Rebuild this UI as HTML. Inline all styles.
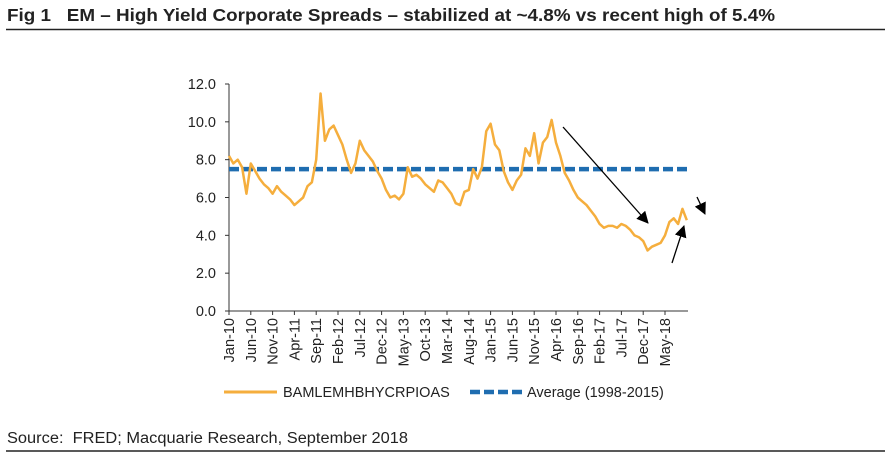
<!DOCTYPE html>
<html><head><meta charset="utf-8"><style>
body{margin:0;background:#fff;width:890px;height:460px;overflow:hidden;font-family:"Liberation Sans",Arial,sans-serif;}
</style></head><body>
<svg width="890" height="460" style="position:absolute;left:0;top:0">
<text x="7" y="21" font-size="17.5" font-weight="bold" fill="#222" textLength="768" lengthAdjust="spacingAndGlyphs">Fig 1&#160;&#160;&#160;EM – High Yield Corporate Spreads – stabilized at ~4.8% vs recent high of 5.4%</text>
<line x1="6" y1="29.5" x2="885" y2="29.5" stroke="#222" stroke-width="1.5"/>
<g id="plot"></g>
<text x="7" y="443" font-size="15.5" fill="#222" textLength="401" lengthAdjust="spacingAndGlyphs">Source:&#160; FRED; Macquarie Research, September 2018</text>
<line x1="6" y1="451" x2="885" y2="451" stroke="#222" stroke-width="1.5"/>
</svg>
<script>
const tickLabels=["Jan-10","Jun-10","Nov-10","Apr-11","Sep-11","Feb-12","Jul-12","Dec-12","May-13","Oct-13","Mar-14","Aug-14","Jan-15","Jun-15","Nov-15","Apr-16","Sep-16","Feb-17","Jul-17","Dec-17","May-18"];
const yTicks=[0,2,4,6,8,10,12];
const spreadValues=[8.2,7.8,8.0,7.6,6.2,7.8,7.4,7.0,6.7,6.5,6.2,6.6,6.3,6.1,5.9,5.6,5.8,6.0,6.6,6.8,8.0,11.5,9.0,9.6,9.8,9.3,8.8,8.0,7.3,7.8,9.0,8.5,8.2,7.9,7.4,7.0,6.4,6.0,6.1,5.9,6.2,7.6,7.1,7.2,7.0,6.7,6.5,6.3,6.9,6.8,6.5,6.2,5.7,5.6,6.3,6.4,7.5,7.0,7.6,9.5,9.9,8.8,8.5,7.4,6.8,6.4,6.9,7.2,8.6,8.2,9.4,7.8,8.9,9.2,10.1,8.9,8.2,7.3,6.9,6.4,6.0,5.8,5.6,5.3,5.0,4.6,4.4,4.5,4.5,4.4,4.6,4.5,4.3,4.0,3.9,3.7,3.2,3.4,3.5,3.6,4.0,4.7,4.9,4.6,5.4,4.8];
const averageValue=7.5;
const NS="http://www.w3.org/2000/svg";
const g=document.getElementById('plot');
const x0=229,pxPerMonth=4.36,y0=311,pxPerUnit=(311-84)/12;
const xs=m=>x0+m*pxPerMonth, ys=v=>y0-v*pxPerUnit;
function mk(t,a){const e=document.createElementNS(NS,t);for(const k in a)e.setAttribute(k,a[k]);g.appendChild(e);return e;}
const xEnd=688;
let e=mk('line',{x1:x0,y1:ys(12),x2:x0,y2:y0,stroke:'#333','stroke-width':1});


e=mk('line',{x1:x0,y1:y0,x2:xEnd,y2:y0,stroke:'#333','stroke-width':1});


yTicks.forEach(v=>{
  let t=mk('line',{x1:x0-4,y1:ys(v),x2:x0,y2:ys(v),stroke:'#333'});
  
  
  let l=mk('text',{x:x0-13,y:ys(v)+5,'font-size':14.5,'text-anchor':'end',fill:'#222'});
  l.textContent=v.toFixed(1);
  
  
});
tickLabels.forEach((s,i)=>{
  const x=xs(i*5);
  let t=mk('line',{x1:x,y1:y0,x2:x,y2:y0+4,stroke:'#333'});
  
  
  let l=mk('text',{x:0,y:0,'font-size':14.5,'text-anchor':'end',fill:'#222',transform:`translate(${x+5},${y0+7}) rotate(-90)`});
  l.textContent=s;
  
  
});
e=mk('line',{x1:x0,y1:ys(averageValue),x2:xEnd,y2:ys(averageValue),stroke:'#1f6db0','stroke-width':4.5,'stroke-dasharray':'10,4'});


e=mk('polyline',{points:spreadValues.map((v,i)=>xs(i)+','+ys(v)).join(' '),fill:'none',stroke:'#f5ae3d','stroke-width':2.5,'stroke-linejoin':'round'});


const defs=mk('defs',{});
const mar=document.createElementNS(NS,'marker');
[['id','ah'],['markerWidth','12'],['markerHeight','12'],['refX','11'],['refY','6'],['orient','auto'],['markerUnits','userSpaceOnUse']].forEach(([k,v])=>mar.setAttribute(k,v));
const mp=document.createElementNS(NS,'path');mp.setAttribute('d','M0,0 L12,6 L0,12 z');mp.setAttribute('fill','#000');mar.appendChild(mp);defs.appendChild(mar);
[[563,127,648,223],[672,263,684,226],[697,197,705,214]].forEach(a=>{
  let ar=mk('line',{x1:a[0],y1:a[1],x2:a[2],y2:a[3],stroke:'#000','stroke-width':1.3,'marker-end':'url(#ah)'});
  
  
});
e=mk('line',{x1:224,y1:392,x2:277,y2:392,stroke:'#f5ae3d','stroke-width':3});


e=mk('text',{x:283,y:397,'font-size':14.5,fill:'#222'});e.textContent='BAMLEMHBHYCRPIOAS';


e=mk('line',{x1:470,y1:392,x2:523,y2:392,stroke:'#1f6db0','stroke-width':4.5,'stroke-dasharray':'10,4'});


e=mk('text',{x:527,y:397,'font-size':14.5,fill:'#222'});e.textContent='Average (1998-2015)';


</script>
</body></html>
